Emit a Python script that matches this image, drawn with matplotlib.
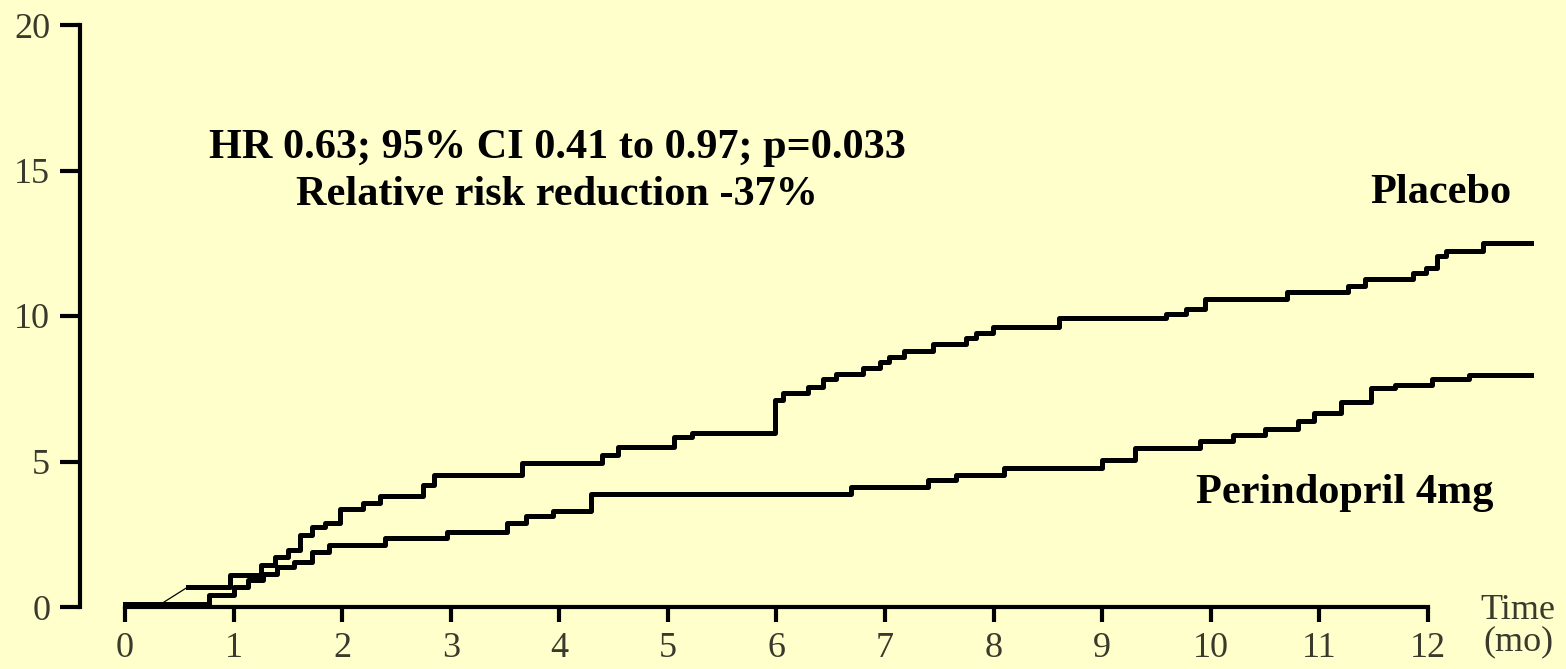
import matplotlib
matplotlib.use("Agg")
import matplotlib.pyplot as plt

# cumulative incidence (%), step times in months
placebo_lead_t = [0.0, 0.30, 0.58]
placebo_lead_v = [0.03, 0.03, 0.69]

placebo_t = [0.58, 0.97, 1.25, 1.38, 1.50, 1.61, 1.72, 1.84, 1.98, 2.19, 2.35, 2.74,
             2.85, 3.66, 4.39, 4.54, 5.06, 5.22, 5.99, 6.06, 6.29, 6.43, 6.55, 6.80,
             6.95, 7.04, 7.17, 7.44, 7.75, 7.84, 7.99, 8.60, 9.59, 9.77, 9.95, 10.70,
             11.26, 11.42, 11.86, 11.98, 12.08, 12.17, 12.51, 12.95]
placebo_v = [0.69, 1.10, 1.44, 1.72, 1.96, 2.47, 2.75, 2.89, 3.36, 3.57, 3.81, 4.19,
             4.55, 4.95, 5.22, 5.50, 5.84, 5.98, 7.11, 7.35, 7.57, 7.83, 8.00, 8.20,
             8.42, 8.58, 8.80, 9.03, 9.24, 9.42, 9.62, 9.93, 10.07, 10.24, 10.58, 10.83,
             11.03, 11.27, 11.47, 11.65, 12.06, 12.23, 12.50, 12.50]

perin_t = [0.0, 0.77, 1.00, 1.13, 1.27, 1.40, 1.56, 1.72, 1.88, 2.39, 2.97, 3.52,
           3.69, 3.94, 4.29, 6.69, 7.40, 7.65, 8.10, 9.00, 9.30, 9.90, 10.20, 10.50,
           10.80, 10.95, 11.20, 11.48, 11.70, 12.04, 12.38, 12.95]
perin_v = [0.12, 0.41, 0.69, 0.93, 1.15, 1.37, 1.55, 1.89, 2.13, 2.37, 2.58, 2.89,
           3.13, 3.30, 3.88, 4.13, 4.35, 4.55, 4.78, 5.05, 5.45, 5.72, 5.92, 6.12,
           6.38, 6.65, 7.05, 7.52, 7.63, 7.83, 7.97, 7.97]

x_ticks = list(range(0, 13))
y_ticks = [0, 5, 10, 15, 20]

bg = '#FFFFCC'
tick_col = '#3a3a2c'
plt.rcParams['font.family'] = ['Liberation Serif', 'DejaVu Serif']

fig = plt.figure(figsize=(15.66, 6.69), dpi=100, facecolor=bg)
ax = fig.add_axes([125 / 1566, 62 / 669, 13.3 * 108.58 / 1566, 582 / 669])
ax.set_facecolor(bg)

lw = 3.6
ax.plot(placebo_lead_t[:2], placebo_lead_v[:2], color='black', lw=lw, solid_capstyle='butt')
ax.plot(placebo_lead_t[1:], placebo_lead_v[1:], color='black', lw=0.9)
ax.step(placebo_t, placebo_v, where='post', color='black', lw=lw, clip_on=False)
ax.step(perin_t, perin_v, where='post', color='black', lw=lw, clip_on=False)

ax.set_xlim(0, 13.3)
ax.set_ylim(0, 20)

for s in ['top', 'right']:
    ax.spines[s].set_visible(False)
ax.spines['left'].set_position(('outward', 32.4))
ax.spines['left'].set_bounds(0, 20)
ax.spines['bottom'].set_bounds(0, 12)
for s in ['left', 'bottom']:
    ax.spines[s].set_linewidth(3.0)

ax.set_xticks(x_ticks)
ax.set_yticks(y_ticks)
ax.tick_params(axis='x', direction='out', length=10.8, width=3.0, pad=7,
               labelsize=26, labelcolor=tick_col)
ax.tick_params(axis='y', direction='out', length=14.4, width=3.0, pad=7,
               labelsize=26, labelcolor=tick_col)

ax.text(12.83, 0.45, 'Time\n(mo)', ha='center', va='top', fontsize=26,
        color=tick_col, linespacing=0.95, clip_on=False)

ax.text(3.98, 15.43, 'HR 0.63; 95% CI 0.41 to 0.97; p=0.033', ha='center',
        va='baseline', fontsize=30.4, fontweight='bold')
ax.text(3.98, 13.81, 'Relative risk reduction -37%', ha='center',
        va='baseline', fontsize=30.4, fontweight='bold')
ax.text(12.12, 13.88, 'Placebo', ha='center', va='baseline', fontsize=30.4,
        fontweight='bold')
ax.text(11.23, 3.57, 'Perindopril 4mg', ha='center', va='baseline', fontsize=30.4,
        fontweight='bold')

fig.savefig('out.png', dpi=100, facecolor=bg)
